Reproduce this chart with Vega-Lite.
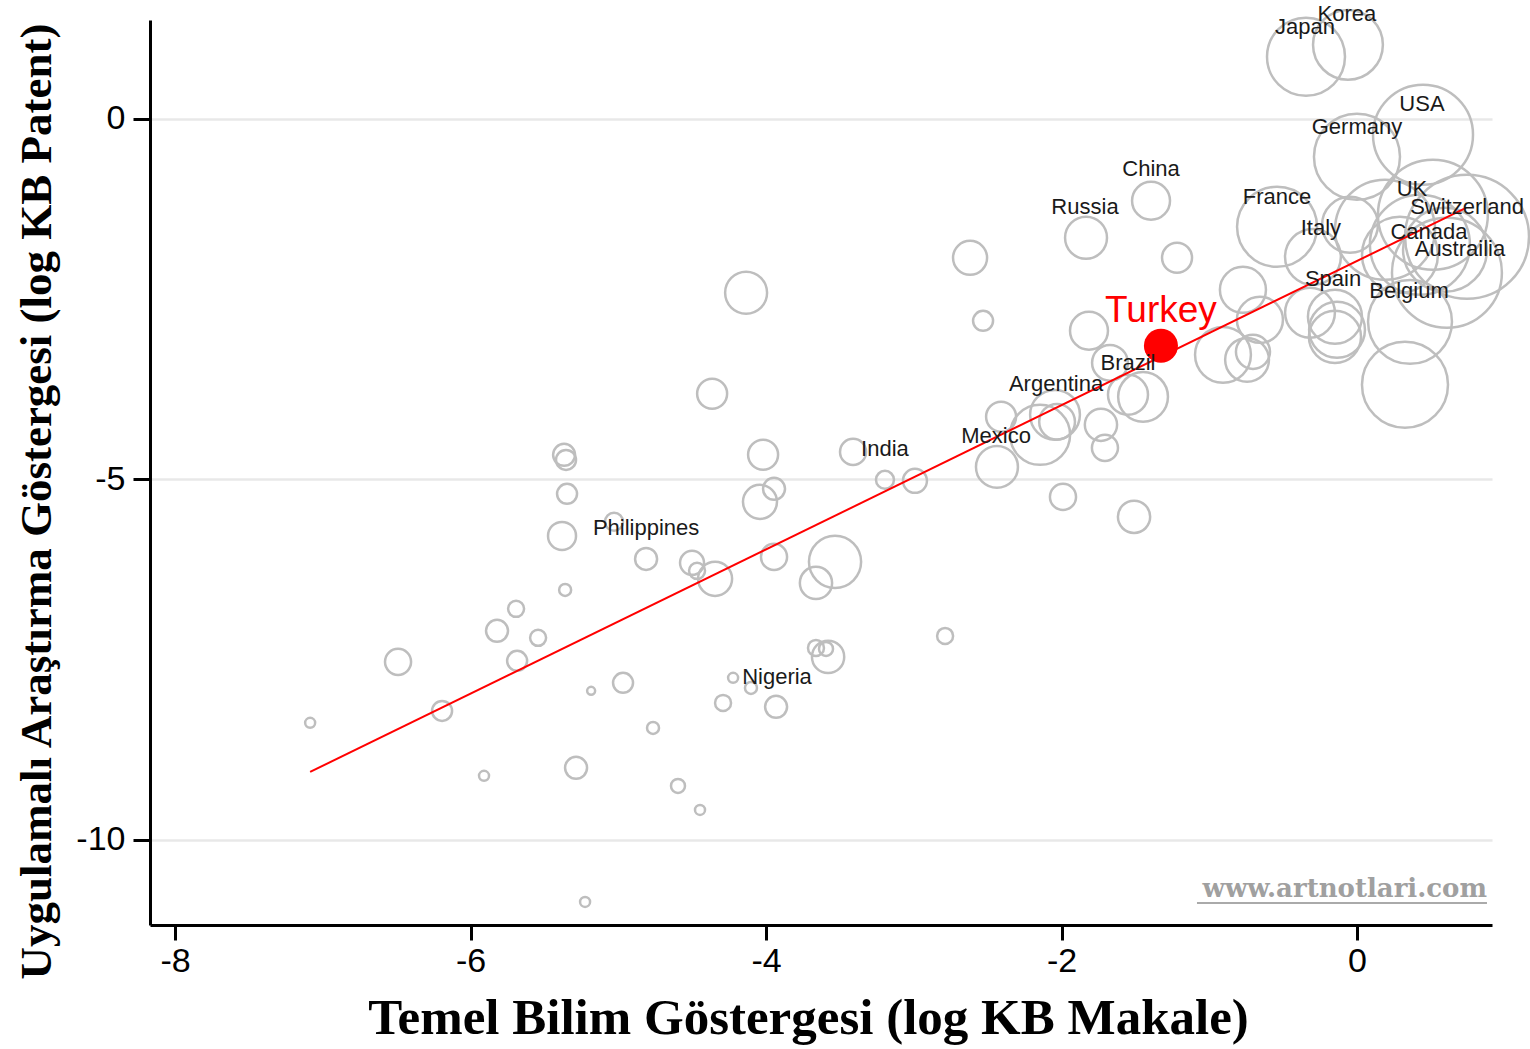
{
  "$schema": "https://vega.github.io/schema/vega-lite/v6.json",
  "width": 1342,
  "height": 905,
  "autosize": {"type": "none"},
  "padding": {"left": 150, "top": 20, "right": 38, "bottom": 124},
  "background": "white",
  "config": {"view": {"stroke": null}},
  "datasets": {
    "countries": [
      {"name": "Japan", "x": -0.345, "y": 0.86, "pop": 152},
      {"name": "Korea", "x": -0.061, "y": 1.026, "pop": 122},
      {"name": "USA", "x": 0.447, "y": -0.222, "pop": 250},
      {"name": "Germany", "x": 0.0, "y": -0.527, "pop": 185},
      {"name": "France", "x": -0.541, "y": -1.498, "pop": 160},
      {"name": "Italy", "x": -0.298, "y": -1.914, "pop": 78},
      {"name": "UK", "x": 0.19, "y": -1.54, "pop": 250},
      {"name": "Switzerland", "x": 0.514, "y": -1.331, "pop": 302},
      {"name": "", "x": 0.745, "y": -1.637, "pop": 384},
      {"name": "", "x": 0.609, "y": -2.136, "pop": 302},
      {"name": "Canada", "x": 0.426, "y": -1.748, "pop": 250},
      {"name": "Austrailia", "x": 0.596, "y": -1.817, "pop": 176},
      {"name": "", "x": 0.291, "y": -1.886, "pop": 144},
      {"name": "", "x": -0.047, "y": -1.47, "pop": 78},
      {"name": "Belgium", "x": 0.359, "y": -2.816, "pop": 176},
      {"name": "", "x": 0.325, "y": -3.689, "pop": 185},
      {"name": "Spain", "x": -0.318, "y": -2.69, "pop": 62},
      {"name": "", "x": -0.149, "y": -2.746, "pop": 73},
      {"name": "", "x": -0.135, "y": -2.926, "pop": 78},
      {"name": "", "x": -0.149, "y": -3.024, "pop": 68},
      {"name": "", "x": -0.772, "y": -2.372, "pop": 53},
      {"name": "", "x": -0.657, "y": -2.788, "pop": 53},
      {"name": "", "x": -0.907, "y": -3.273, "pop": 78},
      {"name": "", "x": -0.744, "y": -3.343, "pop": 48},
      {"name": "", "x": -0.704, "y": -3.232, "pop": 29},
      {"name": "China", "x": -1.394, "y": -1.137, "pop": 36},
      {"name": "Russia", "x": -1.834, "y": -1.65, "pop": 44},
      {"name": "", "x": -2.619, "y": -1.928, "pop": 29},
      {"name": "", "x": -1.218, "y": -1.928, "pop": 22.5},
      {"name": "", "x": -2.531, "y": -2.802, "pop": 10},
      {"name": "", "x": -1.814, "y": -2.94, "pop": 36},
      {"name": "Turkey", "x": -1.327, "y": -3.148, "pop": 29},
      {"name": "Brazil", "x": -1.672, "y": -3.384, "pop": 32},
      {"name": "", "x": -1.55, "y": -3.828, "pop": 40},
      {"name": "", "x": -1.448, "y": -3.856, "pop": 62},
      {"name": "Argentina", "x": -2.044, "y": -4.105, "pop": 62},
      {"name": "", "x": -2.03, "y": -4.202, "pop": 32},
      {"name": "", "x": -2.145, "y": -4.383, "pop": 90},
      {"name": "", "x": -2.409, "y": -4.133, "pop": 22.5},
      {"name": "", "x": -1.733, "y": -4.244, "pop": 26},
      {"name": "", "x": -1.706, "y": -4.563, "pop": 17},
      {"name": "Mexico", "x": -2.437, "y": -4.827, "pop": 44},
      {"name": "India", "x": -3.411, "y": -4.619, "pop": 17},
      {"name": "", "x": -3.195, "y": -5.007, "pop": 8.1},
      {"name": "", "x": -2.992, "y": -5.021, "pop": 14.4},
      {"name": "", "x": -1.99, "y": -5.243, "pop": 17},
      {"name": "", "x": -1.509, "y": -5.52, "pop": 26},
      {"name": "", "x": -4.135, "y": -2.413, "pop": 44},
      {"name": "", "x": -4.365, "y": -3.814, "pop": 22.5},
      {"name": "", "x": -5.367, "y": -4.66, "pop": 12.1},
      {"name": "", "x": -5.354, "y": -4.73, "pop": 10},
      {"name": "", "x": -5.347, "y": -5.201, "pop": 10},
      {"name": "", "x": -5.381, "y": -5.784, "pop": 19.6},
      {"name": "Philippines", "x": -5.029, "y": -5.589, "pop": 8.1},
      {"name": "", "x": -4.812, "y": -6.103, "pop": 12.1},
      {"name": "", "x": -4.02, "y": -4.66, "pop": 22.5},
      {"name": "", "x": -3.946, "y": -5.132, "pop": 12.1},
      {"name": "", "x": -4.041, "y": -5.312, "pop": 29},
      {"name": "", "x": -4.501, "y": -6.158, "pop": 14.4},
      {"name": "", "x": -4.467, "y": -6.269, "pop": 6.4},
      {"name": "", "x": -4.345, "y": -6.38, "pop": 29},
      {"name": "", "x": -3.946, "y": -6.075, "pop": 17},
      {"name": "", "x": -3.533, "y": -6.144, "pop": 68},
      {"name": "", "x": -3.662, "y": -6.436, "pop": 26},
      {"name": "", "x": -5.36, "y": -6.533, "pop": 3.6},
      {"name": "", "x": -5.692, "y": -6.796, "pop": 6.4},
      {"name": "", "x": -5.821, "y": -7.101, "pop": 12.1},
      {"name": "", "x": -5.543, "y": -7.198, "pop": 6.4},
      {"name": "", "x": -6.491, "y": -7.531, "pop": 17},
      {"name": "", "x": -5.685, "y": -7.517, "pop": 10},
      {"name": "", "x": -7.086, "y": -8.377, "pop": 2.5},
      {"name": "", "x": -6.193, "y": -8.211, "pop": 10},
      {"name": "", "x": -5.909, "y": -9.112, "pop": 2.5},
      {"name": "", "x": -5.286, "y": -9.001, "pop": 12.1},
      {"name": "", "x": -5.184, "y": -7.933, "pop": 1.6},
      {"name": "", "x": -4.968, "y": -7.822, "pop": 10},
      {"name": "", "x": -4.765, "y": -8.447, "pop": 3.6},
      {"name": "", "x": -4.596, "y": -9.251, "pop": 4.9},
      {"name": "", "x": -4.447, "y": -9.584, "pop": 2.5},
      {"name": "", "x": -5.225, "y": -10.86, "pop": 2.5},
      {"name": "", "x": -4.291, "y": -8.1, "pop": 6.4},
      {"name": "Nigeria", "x": -4.223, "y": -7.753, "pop": 2.5},
      {"name": "", "x": -4.102, "y": -7.892, "pop": 3.6},
      {"name": "", "x": -3.932, "y": -8.155, "pop": 12.1},
      {"name": "", "x": -3.662, "y": -7.337, "pop": 6.4},
      {"name": "", "x": -3.594, "y": -7.351, "pop": 4.9},
      {"name": "", "x": -3.58, "y": -7.462, "pop": 26},
      {"name": "", "x": -2.788, "y": -7.171, "pop": 6.4}
    ],
    "labels": [
      {"label": "Korea", "x": -0.068, "y": 1.456},
      {"label": "Japan", "x": -0.352, "y": 1.276},
      {"label": "USA", "x": 0.44, "y": 0.208},
      {"label": "Germany", "x": 0.0, "y": -0.111},
      {"label": "China", "x": -1.394, "y": -0.693},
      {"label": "Russia", "x": -1.841, "y": -1.22},
      {"label": "France", "x": -0.541, "y": -1.082},
      {"label": "UK", "x": 0.372, "y": -0.971},
      {"label": "Switzerland", "x": 0.745, "y": -1.22},
      {"label": "Italy", "x": -0.244, "y": -1.512},
      {"label": "Canada", "x": 0.487, "y": -1.567},
      {"label": "Austrailia", "x": 0.697, "y": -1.803},
      {"label": "Spain", "x": -0.162, "y": -2.219},
      {"label": "Belgium", "x": 0.352, "y": -2.386},
      {"label": "Brazil", "x": -1.55, "y": -3.384},
      {"label": "Argentina", "x": -2.037, "y": -3.675},
      {"label": "Mexico", "x": -2.443, "y": -4.397},
      {"label": "India", "x": -3.195, "y": -4.577},
      {"label": "Philippines", "x": -4.812, "y": -5.673},
      {"label": "Nigeria", "x": -3.926, "y": -7.739}
    ],
    "fit": [
      {"x": -7.086, "y": -9.057},
      {"x": 0.738, "y": -1.234}
    ]
  },
  "layer": [
    {
      "data": {"name": "countries"},
      "transform": [{"filter": "datum.name !== 'Turkey'"}],
      "mark": {"type": "point", "shape": "circle", "filled": false, "stroke": "#bebebe", "strokeWidth": 2.5, "opacity": 1},
      "encoding": {
        "x": {
          "field": "x", "type": "quantitative",
          "scale": {"domain": [-8.17, 0.914], "nice": false, "zero": false},
          "axis": {
            "title": "Temel Bilim Göstergesi (log KB Makale)",
            "values": [-8, -6, -4, -2, 0],
            "labelExpr": "datum.value + ''",
            "grid": false,
            "domainColor": "black", "domainWidth": 3,
            "tickColor": "black", "tickWidth": 3, "tickSize": 15,
            "labelFont": "Liberation Sans", "labelFontSize": 34, "labelColor": "black", "labelPadding": 4,
            "titleFont": "Liberation Serif", "titleFontSize": 51, "titleFontWeight": "bold", "titleColor": "black",
            "titleBaseline": "alphabetic", "titleX": 658, "titleY": 108
          }
        },
        "y": {
          "field": "y", "type": "quantitative",
          "scale": {"domain": [-11.18, 1.37], "nice": false, "zero": false},
          "axis": {
            "title": "Uygulamalı Araştırma Göstergesi (log KB Patent)",
            "values": [-10, -5, 0],
            "labelExpr": "datum.value + ''",
            "grid": true, "gridColor": "#e8e8e8", "gridWidth": 2.5,
            "domainColor": "black", "domainWidth": 3,
            "tickColor": "black", "tickWidth": 3, "tickSize": 17,
            "labelFont": "Liberation Sans", "labelFontSize": 34, "labelColor": "black", "labelPadding": 8,
            "titleFont": "Liberation Serif", "titleFontSize": 45, "titleFontWeight": "bold", "titleColor": "black",
            "titleAngle": 270, "titleBaseline": "alphabetic", "titleX": -100, "titleY": 481
          }
        },
        "size": {"field": "pop", "type": "quantitative", "scale": {"type": "linear", "domain": [0, 400], "range": [0, 16000], "zero": true}, "legend": null}
      }
    },
    {
      "data": {"name": "fit"},
      "mark": {"type": "line", "color": "#ff0000", "strokeWidth": 2},
      "encoding": {
        "x": {"field": "x", "type": "quantitative"},
        "y": {"field": "y", "type": "quantitative"}
      }
    },
    {
      "data": {"name": "countries"},
      "transform": [{"filter": "datum.name === 'Turkey'"}],
      "mark": {"type": "point", "shape": "circle", "filled": true, "color": "#ff0000", "opacity": 1, "size": 1160},
      "encoding": {
        "x": {"field": "x", "type": "quantitative"},
        "y": {"field": "y", "type": "quantitative"}
      }
    },
    {
      "data": {"name": "countries"},
      "transform": [{"filter": "datum.name === 'Turkey'"}],
      "mark": {"type": "text", "color": "#ff0000", "font": "Liberation Sans", "fontSize": 37, "dy": -24, "baseline": "alphabetic", "align": "center"},
      "encoding": {
        "x": {"field": "x", "type": "quantitative"},
        "y": {"field": "y", "type": "quantitative"},
        "text": {"field": "name"}
      }
    },
    {
      "data": {"name": "labels"},
      "mark": {"type": "text", "color": "#1a1a1a", "font": "Liberation Sans", "fontSize": 22, "baseline": "middle", "align": "center"},
      "encoding": {
        "x": {"field": "x", "type": "quantitative"},
        "y": {"field": "y", "type": "quantitative"},
        "text": {"field": "label"}
      }
    },
    {
      "data": {"values": [{"site": "www.artnotlari.com", "x": 0.88, "y": -10.79}]},
      "mark": {"type": "text", "color": "#a0a0a0", "font": "DejaVu Serif", "fontSize": 26, "fontWeight": "bold", "baseline": "alphabetic", "align": "right"},
      "encoding": {
        "x": {"field": "x", "type": "quantitative"},
        "y": {"field": "y", "type": "quantitative"},
        "text": {"field": "site"}
      }
    },
    {
      "data": {"values": [{"x": -1.083, "x2": 0.88, "y": -10.874}]},
      "mark": {"type": "rule", "color": "#aaaaaa", "strokeWidth": 2},
      "encoding": {
        "x": {"field": "x", "type": "quantitative"},
        "x2": {"field": "x2"},
        "y": {"field": "y", "type": "quantitative"}
      }
    }
  ]
}
